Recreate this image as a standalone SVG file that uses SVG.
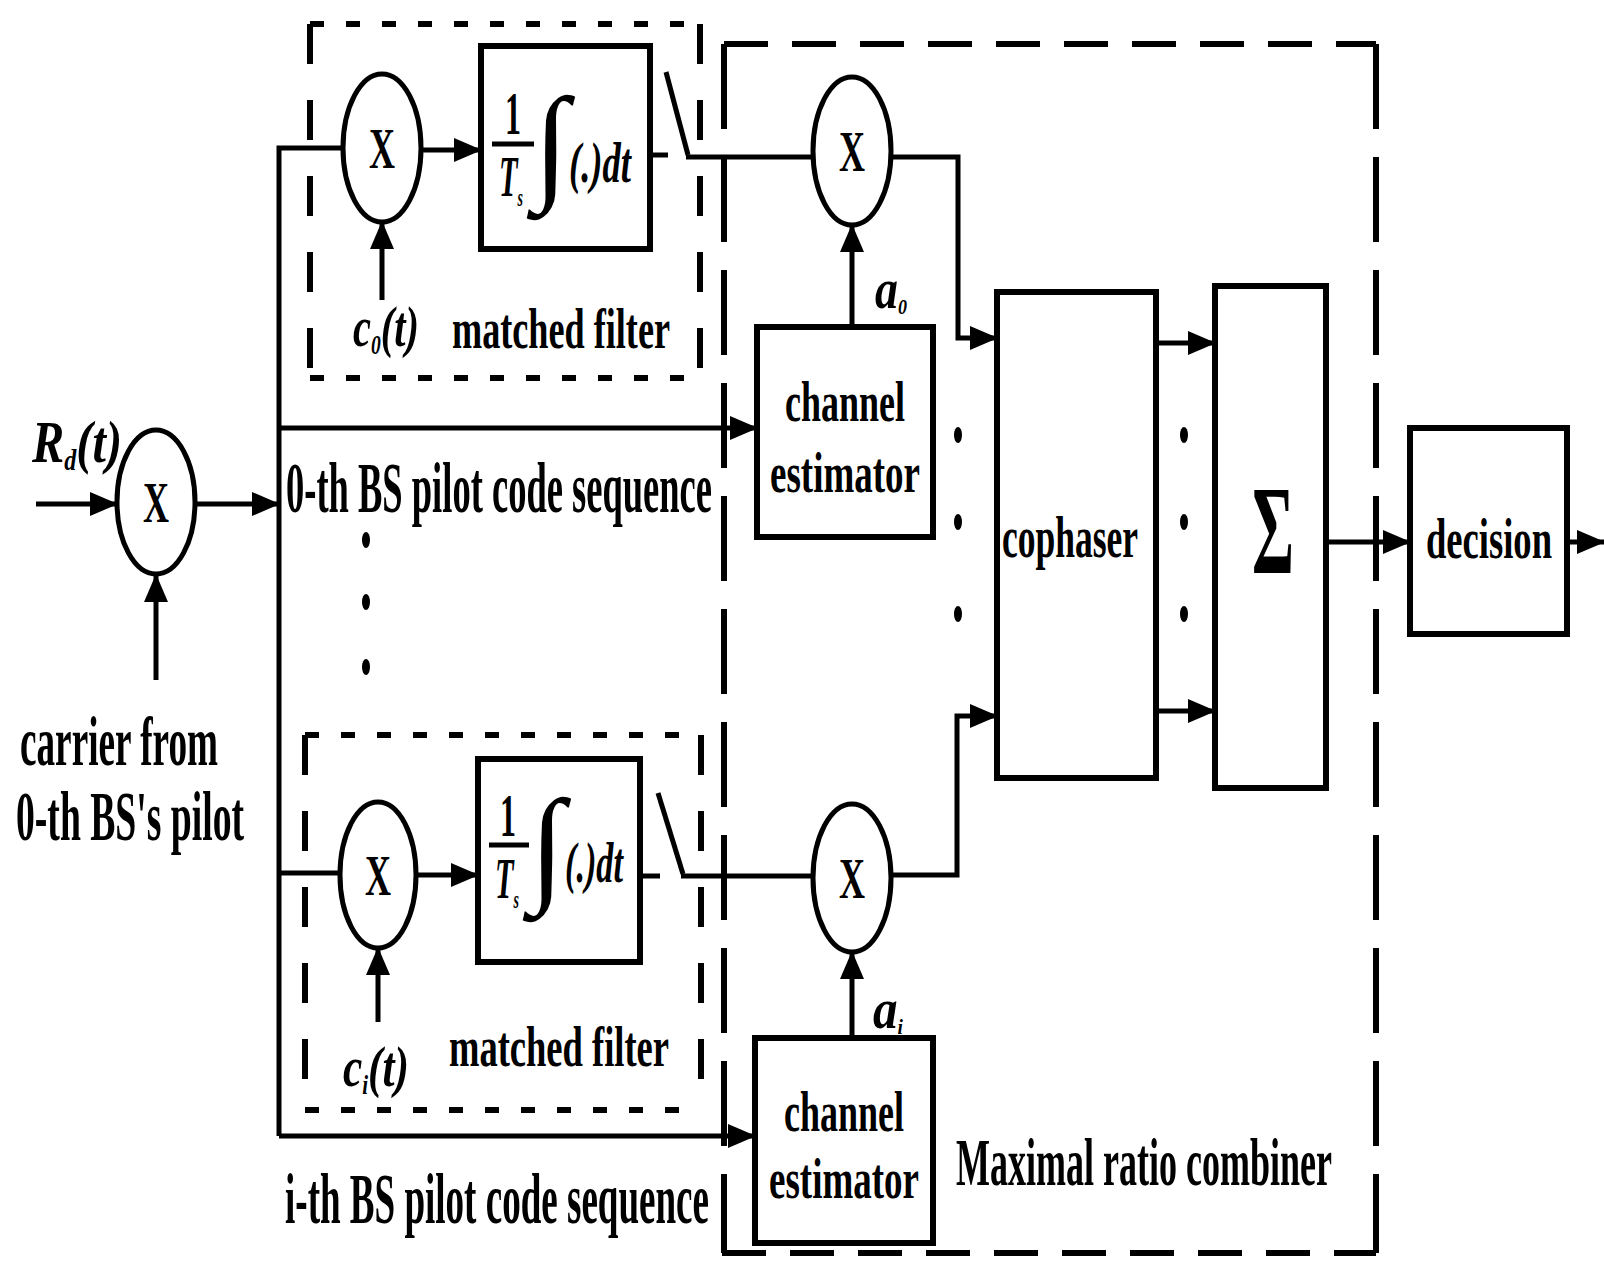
<svg xmlns="http://www.w3.org/2000/svg" width="1604" height="1263" viewBox="0 0 1604 1263">
<style>
.ln{fill:none;stroke:#000;stroke-width:5}
.arr{fill:none;stroke:#000;stroke-width:5;marker-end:url(#ah)}
.box{fill:#fff;stroke:#000;stroke-width:6}
.ell{fill:#fff;stroke:#000;stroke-width:5}
.dh{fill:none;stroke:#000;stroke-width:6;stroke-dasharray:14 22}
.dv{fill:none;stroke:#000;stroke-width:6;stroke-dasharray:40 36}
.mh{fill:none;stroke:#000;stroke-width:6;stroke-dasharray:44 24}
.mv{fill:none;stroke:#000;stroke-width:6;stroke-dasharray:85 28}
.t{font-family:"Liberation Serif","Times New Roman",serif;font-weight:bold;fill:#000}
.i{font-style:italic}
.dot{fill:#000}
</style>
<defs>
<marker id="ah" markerWidth="28" markerHeight="24" refX="27" refY="12" orient="auto" markerUnits="userSpaceOnUse"><path d="M0,0 L28,12 L0,24 z"/></marker>
</defs>
<rect width="1604" height="1263" fill="#fff"/>

<g id="frames">
<path class="dh" d="M310,24 H700 M310,378 H700"/>
<path class="dv" d="M310,24 V378 M700,24 V378"/>
<path class="dh" d="M305,735 H701 M305,1110 H701"/>
<path class="dv" d="M305,735 V1110 M701,735 V1110"/>
<path class="mh" d="M724,44 H1376 M722,1253 H1376"/>
<path class="mv" d="M724,44 V1253 M1376,44 V1253"/>
</g>

<g id="connectors">
<path class="arr" d="M36,504 H117"/>
<path class="arr" d="M195,504 H279"/>
<path class="arr" d="M156,680 V575"/>
<path class="ln" d="M343,148 H279 V1136"/>
<path class="arr" d="M279,428 H757"/>
<path class="arr" d="M279,1136 H755"/>
<path class="ln" d="M279,873 H340"/>
<path class="arr" d="M421,150 H481"/>
<path class="arr" d="M382,300 V222"/>
<path class="ln" d="M650,155 H668"/>
<path class="ln" d="M666,72 L688,155"/>
<path class="ln" d="M686,157 H813"/>
<path class="arr" d="M891,157 H958 V338 H997"/>
<path class="arr" d="M852,327 V225"/>
<path class="arr" d="M416,875 H478"/>
<path class="arr" d="M378,1022 V948"/>
<path class="ln" d="M640,876 H660"/>
<path class="ln" d="M658,793 L683,874"/>
<path class="ln" d="M681,876 H813"/>
<path class="arr" d="M891,875 H957 V716 H997"/>
<path class="arr" d="M852,1038 V952"/>
<path class="arr" d="M1156,343 H1215"/>
<path class="arr" d="M1156,711 H1215"/>
<path class="arr" d="M1326,542 H1410"/>
<path class="arr" d="M1567,542 H1604"/>
</g>

<g id="mult-in">
<ellipse class="ell" cx="156" cy="502" rx="39" ry="72"/>
<text class="t" x="156" y="522" font-size="56" text-anchor="middle" textLength="26" lengthAdjust="spacingAndGlyphs">X</text>
</g>
<g id="label-rd">
<text class="t i" x="32" y="462" font-size="60" textLength="90" lengthAdjust="spacingAndGlyphs">R<tspan font-size="30" dy="8">d</tspan><tspan dy="-8">(t)</tspan></text>
</g>
<g id="label-carrier">
<text class="t" x="20" y="765" font-size="70" textLength="198" lengthAdjust="spacingAndGlyphs">carrier from</text>
<text class="t" x="16" y="840" font-size="70" textLength="228" lengthAdjust="spacingAndGlyphs">0-th BS's pilot</text>
</g>

<g id="mult-0">
<ellipse class="ell" cx="382" cy="148" rx="39" ry="74"/>
<text class="t" x="382" y="168" font-size="56" text-anchor="middle" textLength="26" lengthAdjust="spacingAndGlyphs">X</text>
</g>
<g id="integrator-0">
<rect class="box" x="481" y="46" width="169" height="203"/>
<text class="t" x="513" y="134" font-size="62" text-anchor="middle" textLength="16" lengthAdjust="spacingAndGlyphs">1</text>
<path class="ln" d="M492,144 H534"/>
<text class="t i" x="499" y="196" font-size="56" textLength="24" lengthAdjust="spacingAndGlyphs">T<tspan font-size="26" dy="10">s</tspan></text>
<text class="t" x="551" y="186" font-size="128" text-anchor="middle">∫</text>
<text class="t i" x="569" y="182" font-size="56" textLength="62" lengthAdjust="spacingAndGlyphs">(.)dt</text>
</g>
<g id="label-mf0">
<text class="t i" x="353" y="346" font-size="58" textLength="66" lengthAdjust="spacingAndGlyphs">c<tspan font-size="28" dy="8">0</tspan><tspan dy="-8">(t)</tspan></text>
<text class="t" x="452" y="348" font-size="58" textLength="218" lengthAdjust="spacingAndGlyphs">matched filter</text>
</g>
<g id="label-seq0">
<text class="t" x="286" y="512" font-size="72" textLength="426" lengthAdjust="spacingAndGlyphs">0-th BS pilot code sequence</text>
<ellipse class="dot" cx="366" cy="540" rx="4" ry="8"/>
<ellipse class="dot" cx="366" cy="602" rx="4" ry="8"/>
<ellipse class="dot" cx="366" cy="667" rx="4" ry="8"/>
</g>

<g id="mult-i">
<ellipse class="ell" cx="378" cy="875" rx="38" ry="73"/>
<text class="t" x="378" y="895" font-size="56" text-anchor="middle" textLength="26" lengthAdjust="spacingAndGlyphs">X</text>
</g>
<g id="integrator-i">
<rect class="box" x="478" y="759" width="162" height="203"/>
<text class="t" x="508" y="836" font-size="62" text-anchor="middle" textLength="16" lengthAdjust="spacingAndGlyphs">1</text>
<path class="ln" d="M489,845 H529"/>
<text class="t i" x="495" y="898" font-size="56" textLength="24" lengthAdjust="spacingAndGlyphs">T<tspan font-size="26" dy="10">s</tspan></text>
<text class="t" x="547" y="888" font-size="128" text-anchor="middle">∫</text>
<text class="t i" x="565" y="882" font-size="56" textLength="58" lengthAdjust="spacingAndGlyphs">(.)dt</text>
</g>
<g id="label-mfi">
<text class="t i" x="343" y="1086" font-size="58" textLength="66" lengthAdjust="spacingAndGlyphs">c<tspan font-size="28" dy="8">i</tspan><tspan dy="-8">(t)</tspan></text>
<text class="t" x="449" y="1066" font-size="58" textLength="220" lengthAdjust="spacingAndGlyphs">matched filter</text>
</g>
<g id="label-seqi">
<text class="t" x="285" y="1223" font-size="72" textLength="424" lengthAdjust="spacingAndGlyphs">i-th BS pilot code sequence</text>
</g>

<g id="mult-r0">
<ellipse class="ell" cx="852" cy="151" rx="39" ry="74"/>
<text class="t" x="852" y="171" font-size="56" text-anchor="middle" textLength="26" lengthAdjust="spacingAndGlyphs">X</text>
</g>
<g id="chest-0">
<rect class="box" x="757" y="327" width="176" height="210"/>
<text class="t" x="845" y="421" font-size="58" text-anchor="middle" textLength="120" lengthAdjust="spacingAndGlyphs">channel</text>
<text class="t" x="845" y="492" font-size="58" text-anchor="middle" textLength="150" lengthAdjust="spacingAndGlyphs">estimator</text>
</g>
<g id="label-a0">
<text class="t i" x="875" y="308" font-size="56" textLength="32" lengthAdjust="spacingAndGlyphs">a<tspan font-size="22" dy="6">0</tspan></text>
</g>
<g id="mult-ri">
<ellipse class="ell" cx="852" cy="878" rx="39" ry="74"/>
<text class="t" x="852" y="898" font-size="56" text-anchor="middle" textLength="26" lengthAdjust="spacingAndGlyphs">X</text>
</g>
<g id="chest-i">
<rect class="box" x="755" y="1038" width="178" height="205"/>
<text class="t" x="844" y="1131" font-size="58" text-anchor="middle" textLength="120" lengthAdjust="spacingAndGlyphs">channel</text>
<text class="t" x="844" y="1198" font-size="58" text-anchor="middle" textLength="150" lengthAdjust="spacingAndGlyphs">estimator</text>
</g>
<g id="label-ai">
<text class="t i" x="873" y="1028" font-size="56" textLength="30" lengthAdjust="spacingAndGlyphs">a<tspan font-size="22" dy="6">i</tspan></text>
</g>
<g id="dots-1">
<ellipse class="dot" cx="958" cy="435" rx="4" ry="8"/>
<ellipse class="dot" cx="958" cy="522" rx="4" ry="8"/>
<ellipse class="dot" cx="958" cy="614" rx="4" ry="8"/>
</g>
<g id="cophaser">
<rect class="box" x="997" y="292" width="159" height="486"/>
<text class="t" x="1002" y="557" font-size="60" textLength="136" lengthAdjust="spacingAndGlyphs">cophaser</text>
</g>
<g id="dots-2">
<ellipse class="dot" cx="1184" cy="435" rx="4" ry="8"/>
<ellipse class="dot" cx="1184" cy="522" rx="4" ry="8"/>
<ellipse class="dot" cx="1184" cy="614" rx="4" ry="8"/>
</g>
<g id="sum">
<rect class="box" x="1215" y="286" width="111" height="502"/>
<text class="t" x="1273" y="573" font-size="128" text-anchor="middle" textLength="42" lengthAdjust="spacingAndGlyphs">Σ</text>
</g>
<g id="decision">
<rect class="box" x="1410" y="428" width="157" height="206"/>
<text class="t" x="1489" y="558" font-size="58" text-anchor="middle" textLength="126" lengthAdjust="spacingAndGlyphs">decision</text>
</g>
<g id="label-mrc">
<text class="t" x="956" y="1185" font-size="68" textLength="376" lengthAdjust="spacingAndGlyphs">Maximal ratio combiner</text>
</g>
</svg>
